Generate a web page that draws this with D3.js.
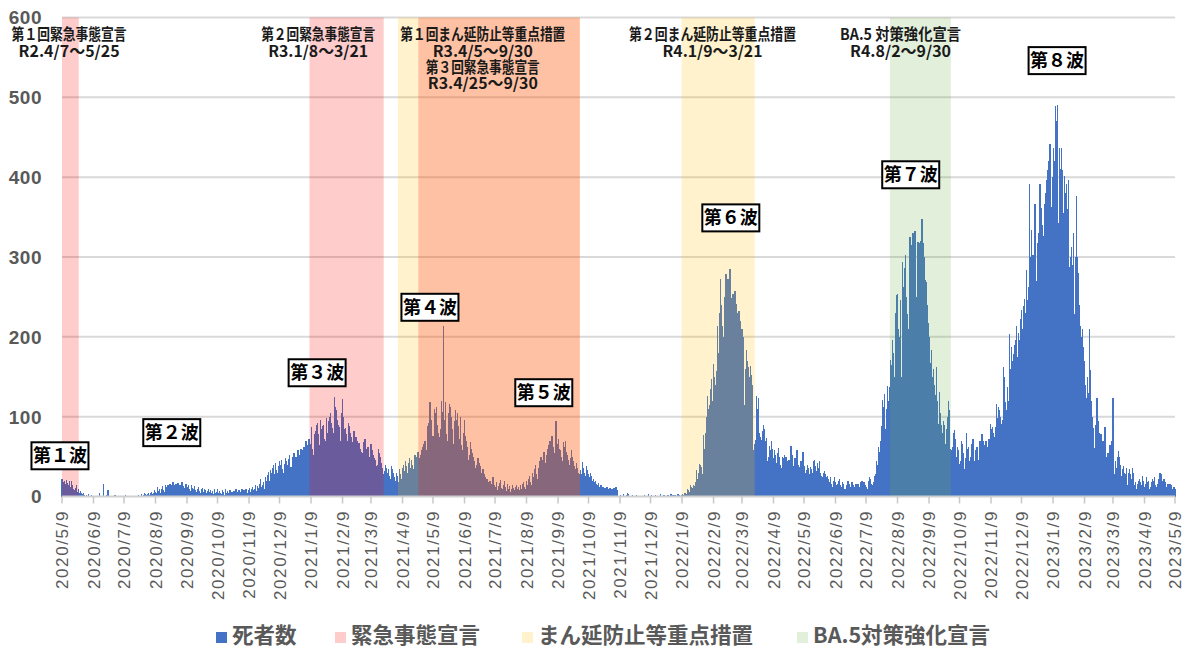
<!DOCTYPE html>
<html>
<head>
<meta charset="utf-8">
<script src="https://cdn.jsdelivr.net/npm/d3@7"></script>
<style>
  html, body { margin: 0; padding: 0; background: #fff; }
  svg { display: block; }
</style>
</head>
<body>
<svg id="chart" width="1189" height="650"></svg>
<script>
// Daily COVID-19 deaths, one inner array per month (first month starts on 5/9)
const deaths2020 = [
  [22,18,20,16,21,17,14,20,12,19,15,10,8,11,14,6,9,5,7,4,3,5,2],
  [1,2,0,3,1,0,2,0,1,0,1,0,1,0,4,0,1,1,16,0,1,2,8,0,1,0,0,1,0,2],
  [0,1,0,0,1,0,0,1,0,2,0,0,1,0,0,0,1,0,0,1,0,0,2,1,0,3,1,2,4,3,2],
  [3,5,2,4,6,3,5,8,6,4,12,7,9,5,10,13,8,6,15,12,14,11,16,9,14,18,15,12,16,13,17],
  [14,15,9,18,13,11,8,16,12,14,10,7,15,11,9,13,8,6,10,12,7,5,9,11,6,10,8,5,7,9],
  [6,8,4,7,3,9,5,6,10,4,7,5,3,8,6,2,9,4,7,5,8,3,6,4,7,2,10,6,5,8,4],
  [6,9,4,8,7,10,5,8,11,6,9,12,8,10,14,7,13,11,16,22,12,15,18,10,24,20,27,31,19,33],
  [30,36,39,28,42,33,29,38,44,40,46,35,30,41,48,45,39,47,52,37,34,50,55,46,49,44,58,40,52,60,56]
];
const deaths2021 = [
  [58,62,48,70,56,64,72,66,87,60,52,78,82,90,92,78,64,96,84,88,90,72,70,98,80,94,100,104,92,86,80],
  [125,112,108,96,90,87,70,104,122,100,84,86,78,70,92,88,80,74,68,82,62,74,70,66,67,60,56,50],
  [54,68,72,60,58,62,44,50,66,58,52,48,46,38,40,60,54,50,42,36,28,32,40,36,30,34,26,22,38,34,30],
  [24,20,30,26,18,34,28,22,36,40,32,44,38,30,42,48,36,46,40,34,52,50,44,56,48,38,52,58,62,66],
  [70,58,54,88,92,118,96,64,76,110,104,112,90,80,74,84,120,106,214,96,118,78,70,104,116,112,100,84,66,94,108],
  [96,104,88,72,100,64,58,80,96,76,70,62,46,52,68,60,54,50,44,36,40,48,42,38,30,26,34,28,24,22],
  [22,18,14,20,10,16,24,15,12,18,8,13,17,21,11,9,14,19,12,7,16,10,13,6,9,15,11,8,12,14,10],
  [12,8,14,10,16,18,12,9,20,15,22,26,18,14,30,24,34,40,28,22,36,44,50,38,46,56,42,35,52,60,64],
  [70,58,76,62,54,48,94,66,72,60,58,50,44,68,62,70,56,52,46,40,48,58,50,44,38,34,42,36,30,28],
  [33,28,43,36,30,26,38,33,28,24,30,26,20,22,18,20,16,14,17,12,14,10,12,9,11,8,12,10,9,11,7],
  [10,8,11,9,12,8,1,0,2,1,0,3,1,0,2,4,3,1,0,1,2,0,1,0,2,1,0,1,0,1],
  [1,0,2,1,0,1,3,0,1,2,0,1,0,2,1,0,1,0,3,1,0,2,1,0,1,2,0,1,3,1,2]
];
const deaths2022 = [
  [1,2,0,1,3,2,1,2,3,2,4,5,3,10,8,6,14,12,11,15,13,18,33,22,30,41,40,37,28,77,60],
  [79,100,126,110,115,135,147,120,166,150,140,157,213,180,230,272,240,213,200,250,279,230,272,260,285,249,220,254],
  [240,258,241,230,118,232,220,207,210,200,114,160,183,170,162,150,164,152,140,58,66,71,126,110,124,80,75,71,82,90,85],
  [70,73,45,50,63,58,69,60,48,58,52,42,55,61,50,40,36,50,48,52,50,37,44,46,40,63,52,38,30,48],
  [48,58,40,30,37,44,42,56,38,30,33,40,36,28,37,34,30,44,46,38,32,42,36,44,30,26,24,29,32,28,24],
  [26,22,18,24,16,12,20,25,18,14,16,20,22,14,12,18,16,10,9,14,20,16,12,10,18,14,12,9,16,14],
  [16,12,10,18,20,14,18,15,12,10,20,24,22,16,14,18,26,28,45,40,62,56,70,88,121,112,129,84,110,138,120],
  [137,171,165,196,180,150,230,252,254,210,200,246,150,294,262,286,302,250,229,210,325,315,300,330,300,332,233,250,319,310,317],
  [320,348,317,300,271,269,240,217,200,167,183,150,160,140,127,162,120,91,131,104,90,79,95,90,66,85,100,120,108,60],
  [58,62,79,83,72,50,62,58,41,45,70,66,55,35,48,79,60,62,44,50,66,72,45,40,58,62,33,46,70,62,78],
  [70,64,58,70,60,62,72,91,84,87,79,74,87,116,98,112,108,100,91,96,162,150,118,108,137,120,204,160,187,170],
  [179,190,196,213,175,205,196,222,233,210,238,248,230,284,246,262,392,300,334,302,290,367,233,270,317,330,392,361,340,326,300]
];
const deaths2023 = [
  [367,380,397,409,420,441,363,400,436,420,489,470,490,342,436,410,436,409,355,401,380,392,360,397,288,300,313,290,330,229,300],
  [376,300,280,240,213,200,210,187,170,140,123,150,130,210,158,120,100,86,61,90,123,94,80,53,78,70,65,70],
  [87,50,40,55,48,65,58,69,123,28,45,36,50,57,49,40,26,35,38,30,28,36,14,30,34,28,22,36,30,14,18],
  [10,16,20,22,18,14,26,20,12,16,24,18,20,10,12,18,22,20,24,15,12,16,22,30,28,20,14,22,18,12],
  [10,16,12,16,14,10,8,12,9]
];

// Axis ticks
const yTicks = [0, 100, 200, 300, 400, 500, 600];
const xTickLabels = [
  "2020/5/9","2020/6/9","2020/7/9","2020/8/9","2020/9/9","2020/10/9","2020/11/9","2020/12/9",
  "2021/1/9","2021/2/9","2021/3/9","2021/4/9","2021/5/9","2021/6/9","2021/7/9","2021/8/9",
  "2021/9/9","2021/10/9","2021/11/9","2021/12/9","2022/1/9","2022/2/9","2022/3/9","2022/4/9",
  "2022/5/9","2022/6/9","2022/7/9","2022/8/9","2022/9/9","2022/10/9","2022/11/9","2022/12/9",
  "2023/1/9","2023/2/9","2023/3/9","2023/4/9","2023/5/9"
];

// Measure periods
const emergencyPeriods = [["2020-04-07","2020-05-25"],["2021-01-08","2021-03-21"],["2021-04-25","2021-09-30"]];
const priorityPeriods  = [["2021-04-05","2021-09-30"],["2022-01-09","2022-03-21"]];
const ba5Periods       = [["2022-08-02","2022-09-30"]];

// Period captions: anchor date and text lines
const periodNotes = [
  { date: "2020-05-16", lines: ["第１回緊急事態宣言", "R2.4/7～5/25"] },
  { date: "2021-01-16", lines: ["第２回緊急事態宣言", "R3.1/8～3/21"] },
  { date: "2021-06-27", lines: ["第１回まん延防止等重点措置", "R3.4/5～9/30", "第３回緊急事態宣言", "R3.4/25～9/30"] },
  { date: "2022-02-08", lines: ["第２回まん延防止等重点措置", "R4.1/9～3/21"] },
  { date: "2022-08-12", lines: ["BA.5 対策強化宣言", "R4.8/2～9/30"] }
];
const noteWidths = [[115, 101], [114, 100], [165, 100, 114, 110], [167, 100], [121, 101]];

// Wave labels: anchor date and value at the label centre
const waveLabels = [
  { text: "第１波", date: "2020-05-07", value: 51 },
  { text: "第２波", date: "2020-08-25", value: 80 },
  { text: "第３波", date: "2021-01-15", value: 155 },
  { text: "第４波", date: "2021-05-06", value: 237 },
  { text: "第５波", date: "2021-08-26", value: 130 },
  { text: "第６波", date: "2022-02-26", value: 349 },
  { text: "第７波", date: "2022-08-22", value: 403 },
  { text: "第８波", date: "2023-01-13", value: 546 }
];

const legendItems = ["死者数", "緊急事態宣言", "まん延防止等重点措置", "BA.5対策強化宣言"];

// ---- build daily series ----
const days = [];
function addYear(year, months, firstMonth, firstDay) {
  months.forEach((vals, k) => {
    const d0 = k === 0 ? firstDay : 1;
    vals.forEach((v, j) => days.push({ date: new Date(year, firstMonth - 1 + k, d0 + j), value: v }));
  });
}
addYear(2020, deaths2020, 5, 9);
addYear(2021, deaths2021, 1, 1);
addYear(2022, deaths2022, 1, 1);
addYear(2023, deaths2023, 1, 1);

const parseISO = d3.timeParse("%Y-%m-%d");
const parseTick = d3.timeParse("%Y/%m/%d");

const svg = d3.select("#chart");
const x = d3.scaleTime()
  .domain([new Date(2020, 4, 9), new Date(2023, 4, 9)])
  .range([62, 1175]);
const y = d3.scaleLinear().domain([0, 600]).range([496.5, 17.5]);
const dayW = x(new Date(2020, 4, 10)) - x(new Date(2020, 4, 9));

const grey = "#595959";
const cjk = "'Noto Sans CJK JP', 'Noto Sans', sans-serif";
const latin = "'Liberation Sans', Arial, sans-serif";

// gridlines
svg.append("g").selectAll("line")
  .data(yTicks.filter(v => v > 0))
  .join("line")
  .attr("x1", x.range()[0]).attr("x2", x.range()[1])
  .attr("y1", d => y(d)).attr("y2", d => y(d))
  .attr("stroke", "#d9d9d9").attr("stroke-width", 2);

// daily bars
svg.append("g")
  .attr("shape-rendering", "crispEdges")
  .selectAll("rect")
  .data(days)
  .join("rect")
  .attr("x", d => x(d.date) - dayW / 2)
  .attr("width", dayW + 0.3)
  .attr("y", d => y(d.value))
  .attr("height", d => y(0) - y(d.value))
  .attr("fill", "#4472c4");

// translucent period bands over the bars
function drawBands(periods, color) {
  svg.append("g").selectAll("rect")
    .data(periods)
    .join("rect")
    .attr("x", d => Math.max(x.range()[0], x(parseISO(d[0])) - 0.5))
    .attr("width", d => x(parseISO(d[1])) + 0.5 - Math.max(x.range()[0], x(parseISO(d[0])) - 0.5))
    .attr("y", y(600))
    .attr("height", y(0) - y(600))
    .attr("fill", color);
}
drawBands(priorityPeriods, "rgba(255,192,0,0.2)");
drawBands(emergencyPeriods, "rgba(255,0,0,0.2)");
drawBands(ba5Periods, "rgba(112,173,71,0.2)");

// x axis line and ticks
svg.append("line")
  .attr("x1", x.range()[0]).attr("x2", x.range()[1])
  .attr("y1", y(0)).attr("y2", y(0))
  .attr("stroke", "#d0d0d0").attr("stroke-width", 2);

const xg = svg.append("g");
xg.selectAll("line")
  .data(xTickLabels)
  .join("line")
  .attr("x1", d => x(parseTick(d))).attr("x2", d => x(parseTick(d)))
  .attr("y1", y(0)).attr("y2", y(0) + 7)
  .attr("stroke", "#c8c8c8").attr("stroke-width", 1.5);
xg.selectAll("text")
  .data(xTickLabels)
  .join("text")
  .attr("transform", d => `translate(${x(parseTick(d))},510) rotate(-90)`)
  .attr("dy", "0.36em")
  .attr("text-anchor", "end")
  .attr("font-family", latin)
  .attr("font-size", 17)
  .attr("letter-spacing", 1.6)
  .attr("fill", grey)
  .text(d => d);

// y labels
svg.append("g").selectAll("text")
  .data(yTicks)
  .join("text")
  .attr("x", 42)
  .attr("y", d => y(d))
  .attr("dy", "0.36em")
  .attr("text-anchor", "end")
  .attr("font-family", latin)
  .attr("font-weight", "bold")
  .attr("font-size", 19)
  .attr("letter-spacing", 0.5)
  .attr("fill", grey)
  .text(d => d);

// period captions, one multi-line text per period
const lineBase = [40, 57, 73, 89];
periodNotes.forEach((n, i) => {
  const cx = x(parseISO(n.date));
  const t = svg.append("text")
    .attr("text-anchor", "middle")
    .attr("font-family", cjk)
    .attr("font-weight", "bold")
    .attr("font-size", 15.5)
    .attr("fill", "#1a1a1a");
  n.lines.forEach((line, j) => {
    t.append("tspan")
      .attr("x", cx)
      .attr("y", lineBase[j])
      .attr("textLength", noteWidths[i][j])
      .attr("lengthAdjust", "spacingAndGlyphs")
      .text(line);
  });
});

// wave label boxes
const wg = svg.append("g").selectAll("g")
  .data(waveLabels)
  .join("g")
  .attr("transform", d => `translate(${x(parseISO(d.date))},${y(d.value)})`);
wg.append("rect")
  .attr("x", -28.5).attr("y", -13.5)
  .attr("width", 57).attr("height", 27)
  .attr("fill", "#fff")
  .attr("stroke", "#000")
  .attr("stroke-width", 2);
wg.append("text")
  .attr("text-anchor", "middle")
  .attr("dy", "0.36em")
  .attr("font-family", cjk)
  .attr("font-weight", "bold")
  .attr("font-size", 18)
  .attr("fill", "#000")
  .text(d => d.text);

// legend
const legendColors = ["#4472c4", "#ffcccc", "#fff2cc", "#e2efda"];
const legendX = [216, 335, 522, 797];
const lg = svg.append("g").selectAll("g")
  .data(legendItems)
  .join("g")
  .attr("transform", (d, i) => `translate(${legendX[i]},0)`);
lg.append("rect")
  .attr("x", 0).attr("y", 632)
  .attr("width", 11).attr("height", 11)
  .attr("fill", (d, i) => legendColors[i]);
lg.append("text")
  .attr("x", 16).attr("y", 643)
  .attr("font-family", cjk)
  .attr("font-weight", "bold")
  .attr("font-size", 21.5)
  .attr("fill", grey)
  .text(d => d);
</script>
</body>
</html>
